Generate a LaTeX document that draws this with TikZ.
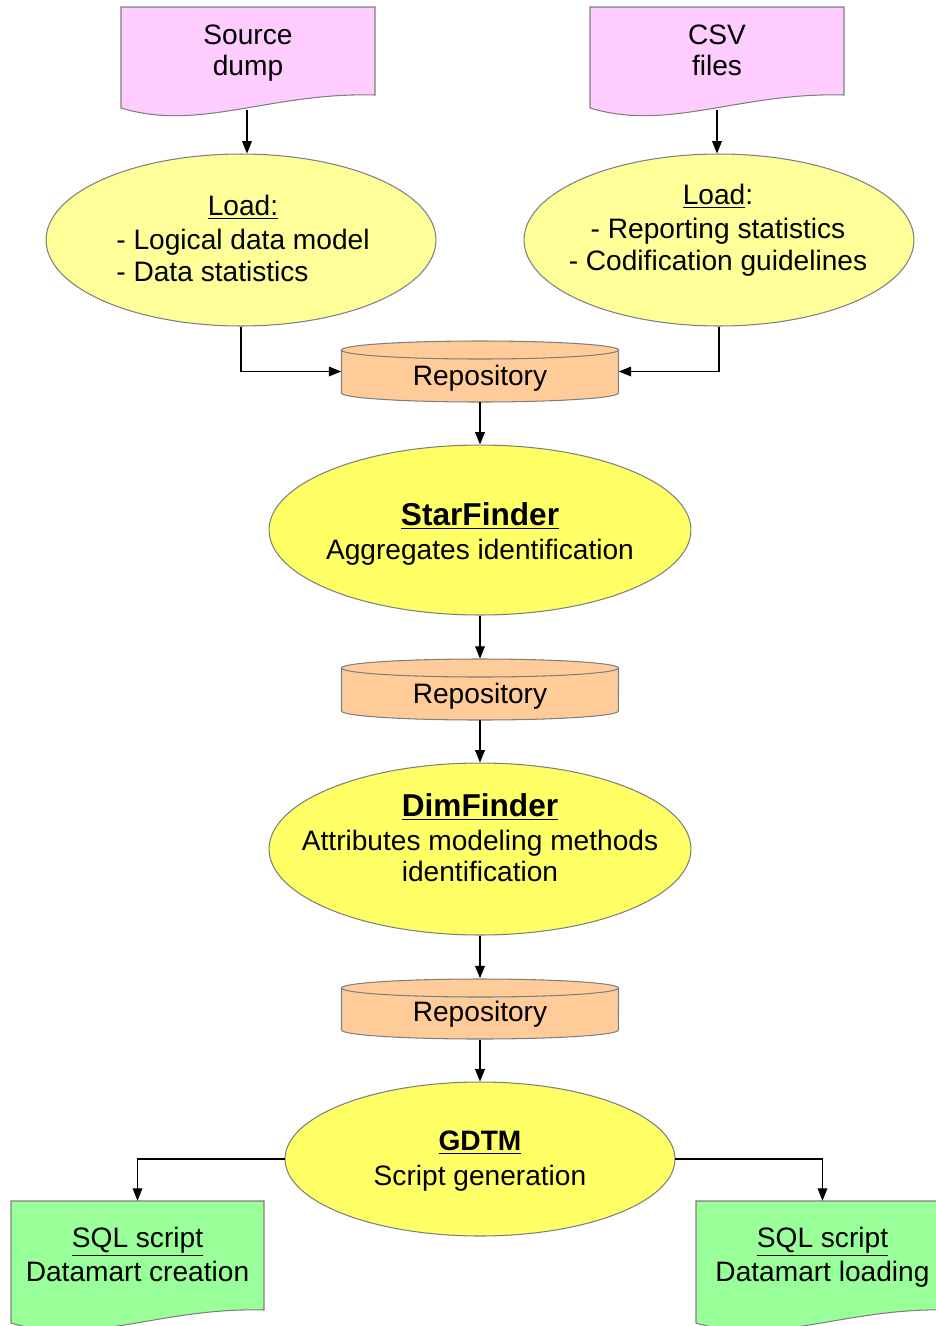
\documentclass[tikz,border=0pt]{standalone}
\usepackage{fontspec}
\setmainfont{Liberation Sans}
\usetikzlibrary{arrows.meta,shapes.geometric}
\definecolor{pinkfill}{HTML}{FFCCFF}
\definecolor{paleyellow}{HTML}{FFFF99}
\definecolor{brightyellow}{HTML}{FFFF66}
\definecolor{orangefill}{HTML}{FFCC99}
\definecolor{greenfill}{HTML}{99FF99}
\definecolor{bordergray}{HTML}{7F7F7F}

% document shape: top-left x, top-left y (pixels, downwards), width, left height, fill
\newcommand{\docshape}[5]{%
 \filldraw[shapeline,fill=#5] (#1,-#2) -- ({#1+#3},-#2) -- ({#1+#3},{-#2-#4+13})
   .. controls ({#1+149},{-#2-#4+16}) and ({#1+79},{-#2-#4-24}) .. (#1,{-#2-#4}) -- cycle;}
% cylinder: centre x, top y, bottom y (pixels, downwards)
\newcommand{\cylshape}[3]{%
 \filldraw[shapeline,fill=orangefill] ({#1-138.5},{-#2-9}) -- ({#1-138.5},{-#3+9})
   arc[start angle=180,end angle=360,x radius=2.77cm,y radius=0.18cm]
   -- ({#1+138.5},{-#2-9})
   arc[start angle=0,end angle=180,x radius=2.77cm,y radius=0.18cm] -- cycle;
 \draw[shapeline] ({#1-138.5},{-#2-9}) arc[start angle=180,end angle=360,x radius=2.77cm,y radius=0.18cm];}
\newcommand{\lowered}[2]{\raisebox{-#1}[\height][\depth]{#2}}

\begin{document}
\begin{tikzpicture}[x=0.02cm,y=0.02cm,
  shapeline/.style={draw=bordergray,line width=0.6pt},
  conn/.style={draw=black,line width=0.7pt,-{Triangle[length=7pt,width=5.5pt]}},
  bubble/.style={ellipse,draw=bordergray,line width=0.6pt,inner sep=0pt},
  txt/.style={align=center,inner sep=0pt,font=\fontsize{16}{17.8}\selectfont}]
\useasboundingbox (0,0) rectangle (936,-1326);
\clip (0,0) rectangle (936,-1326);

% top documents
\docshape{121}{7}{254}{101}{pinkfill}
\docshape{590}{7}{254}{101}{pinkfill}
\node[txt,minimum width=5.08cm,minimum height=1.84cm] (src) at (248,-53) {Source\\dump};
\node[txt,minimum width=5.08cm,minimum height=1.72cm] (csv) at (717,-50) {CSV\\files};
\coordinate (srcb) at (247,-110);
\coordinate (csvb) at (717,-110);

% load ellipses
\node[bubble,fill=paleyellow,minimum width=7.8cm,minimum height=3.44cm] (e1) at (241,-240) {};
\node[txt] (e1t) at (243,-242) {\begin{tabular}{@{}l@{}}\multicolumn{1}{@{}c@{}}{\underline{Load:}}\\[1.7pt] - Logical data model\\ - Data statistics\end{tabular}};
\node[bubble,fill=paleyellow,minimum width=7.8cm,minimum height=3.44cm] (e2) at (719,-240) {};
\node[txt] (e2t) at (718,-230) {\underline{Load}:\\[1.7pt] - Reporting statistics\\ - Codification guidelines};

% repository 1
\cylshape{480}{341}{402}
\node[txt,minimum width=5.54cm,minimum height=1.22cm] (repo1) at (480,-371.5) {\lowered{4pt}{Repository}};

% StarFinder
\node[bubble,fill=brightyellow,minimum width=8.44cm,minimum height=3.4cm] (star) at (480,-530) {};
\node[txt] (start) at (480,-534) {{\fontsize{18}{20}\selectfont\bfseries\underline{StarFinder}}\\[1.5pt] Aggregates identification};

% repository 2
\cylshape{480}{659}{720}
\node[txt,minimum width=5.54cm,minimum height=1.22cm] (repo2) at (480,-689.5) {\lowered{4pt}{Repository}};

% DimFinder
\node[bubble,fill=brightyellow,minimum width=8.44cm,minimum height=3.44cm] (dim) at (480,-849) {};
\node[txt] (dimt) at (480,-838) {{\fontsize{18}{20}\selectfont\bfseries\underline{DimFinder}}\\[1.5pt] Attributes modeling methods\\ identification};

% repository 3
\cylshape{480}{979}{1039}
\node[txt,minimum width=5.54cm,minimum height=1.22cm] (repo3) at (480,-1009) {\lowered{3pt}{Repository}};

% GDTM
\node[bubble,fill=brightyellow,minimum width=7.8cm,minimum height=3.08cm] (gdtm) at (480,-1159) {};
\node[txt] (gdtmt) at (480,-1161) {{\bfseries\underline{GDTM}}\\[1.7pt] Script generation};

% output documents
\docshape{11}{1201}{253}{122}{greenfill}
\docshape{696}{1201}{253}{122}{greenfill}
\node[txt,minimum width=5.06cm,minimum height=2.14cm] (sql1) at (137.5,-1254.5) {\underline{SQL script}\\[1.7pt] Datamart creation};
\node[txt,minimum width=5.06cm,minimum height=2.24cm] (sql2) at (822.5,-1257) {\underline{SQL script}\\[1.7pt] Datamart loading};

% connectors
\draw[conn] (srcb) -- (srcb |- e1.north);
\draw[conn] (csvb) -- (csvb |- e2.north);
\draw[conn] (e1.south) |- (repo1.west);
\draw[conn] (e2.south) |- (repo1.east);
\draw[conn] (repo1.south) -- (star.north);
\draw[conn] (star.south) -- (repo2.north);
\draw[conn] (repo2.south) -- (dim.north);
\draw[conn] (dim.south) -- (repo3.north);
\draw[conn] (repo3.south) -- (gdtm.north);
\draw[conn] (gdtm.west) -| (sql1.north);
\draw[conn] (gdtm.east) -| (sql2.north);
\end{tikzpicture}
\end{document}
